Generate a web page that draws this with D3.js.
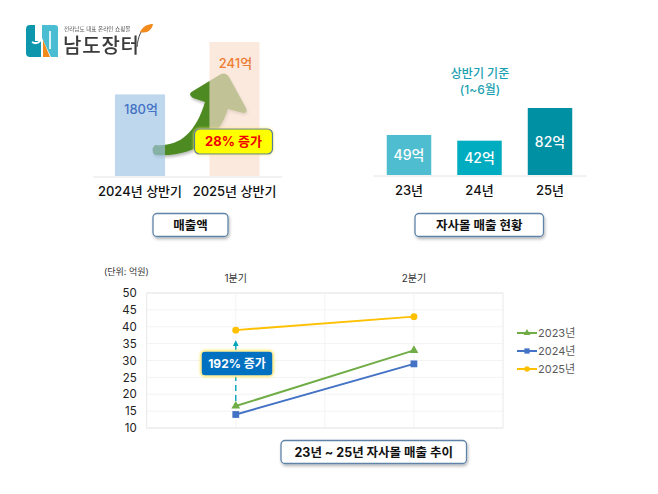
<!DOCTYPE html>
<html>
<head>
<meta charset="utf-8">
<script src="https://cdn.jsdelivr.net/npm/d3@7"></script>
<style>
  body { margin: 0; background: #fff; }
  svg { display: block; }
  svg text { font-family: Inter, "Noto Sans CJK KR", sans-serif; }
</style>
</head>
<body>
<svg class="chart"></svg>
<script>
var halfLabels = ["2024년 상반기", "2025년 상반기"];
var halfValues = [180, 241];

var shopLabels = ["23년", "24년", "25년"];
var shopValues = [49, 42, 82];

var quarters = ["1분기", "2분기"];
var seriesNames = ["2023년", "2024년", "2025년"];
var sales2023 = [16.5, 33];
var sales2024 = [14, 29];
var sales2025 = [39, 43];
var yTicks = [10, 15, 20, 25, 30, 35, 40, 45, 50];

var width = 658;
var height = 494;
var svg = d3.select(".chart").attr("width", width).attr("height", height);

var defs = svg.append("defs");
var soft = defs.append("filter").attr("id", "soft").attr("x", "-20%").attr("y", "-30%").attr("width", "140%").attr("height", "170%");
soft.append("feDropShadow").attr("dx", 1).attr("dy", 2).attr("stdDeviation", 1.6).attr("flood-color", "#000").attr("flood-opacity", 0.28);
var glow = defs.append("filter").attr("id", "glow").attr("x", "-20%").attr("y", "-30%").attr("width", "140%").attr("height", "160%");
glow.append("feDropShadow").attr("dx", 0).attr("dy", 0).attr("stdDeviation", 1.4).attr("flood-color", "#ffe866").attr("flood-opacity", 1);
var blur = defs.append("filter").attr("id", "blur").attr("x", "-20%").attr("y", "-20%").attr("width", "140%").attr("height", "140%");
blur.append("feGaussianBlur").attr("stdDeviation", 0.4);
defs.append("marker").attr("id", "tip").attr("viewBox", "0 0 10 10").attr("refX", 5).attr("refY", 5)
    .attr("markerWidth", 4).attr("markerHeight", 4).attr("orient", "auto")
    .append("path").attr("d", "M0,0L10,5L0,10Z").attr("fill", "#00a5b8");

// logo
var logo = svg.append("g").attr("filter", "url(#blur)");
logo.append("path").attr("d", "M30,25H35V41H41V57H30Q26,57 26,53V29Q26,25 30,25Z").attr("fill", "#0a96ac");
logo.append("path").attr("d", "M42,25H55Q58,25 58,28V57H51L42,38Z").attr("fill", "#4cbdd2");
logo.append("path").attr("d", "M43,40L50,57H43Z").attr("fill", "#f28a1e");
logo.append("path").attr("d", "M50,31V49").attr("fill", "none").attr("stroke", "#fff").attr("stroke-width", 1.6);
logo.append("path").attr("d", "M32,42Q37,45 41,40").attr("fill", "none").attr("stroke", "#fff").attr("stroke-width", 2);
logo.append("path").attr("d", "M137,47C138,37 141,29 147,26").attr("fill", "none").attr("stroke", "#444").attr("stroke-width", 1);
logo.append("path").attr("d", "M140,32C143,26 148,24 153,24C152,30 147,34 140,32Z").attr("fill", "#f28a1e");
logo.append("text").attr("x", 64).attr("y", 31).attr("font-size", 5.6).attr("fill", "#555").text("전라남도 대표 온라인 쇼핑몰");
logo.append("text").attr("x", 63).attr("y", 53).attr("font-size", 20).attr("font-weight", 500).attr("fill", "#3b3b3b").attr("textLength", 76).text("남도장터");

// left bars: growth arrow sits under the translucent bars
svg.append("path")
    .attr("d", "M155,145C178,147 195,135 205,102L193,98Q187,94 193,91L221,74Q226,72 229,77L246,108Q248,113 243,113L228,109C220,135 197,158 155,155Q150,150 155,145Z")
    .attr("fill", "#4e8a22").attr("filter", "url(#soft)");

var halfX = d3.scaleBand().domain(halfLabels).range([92.75, 281.75]).paddingInner(0.47).paddingOuter(0.235);
var halfY = d3.scaleLinear().domain([85, 241]).range([176, 42]);
var halfFill = ["#a0c4e4", "#f9dfce"];
var halfText = ["#4472c4", "#ed7d31"];
var halfOffset = [20, 26];

svg.selectAll(".halfbar").data(halfValues).join("rect").attr("class", "halfbar")
    .attr("x", function(d, i) { return halfX(halfLabels[i]); })
    .attr("y", function(d) { return halfY(d); })
    .attr("width", halfX.bandwidth())
    .attr("height", function(d) { return halfY.range()[0] - halfY(d); })
    .attr("fill", function(d, i) { return halfFill[i]; })
    .attr("opacity", 0.68);
svg.selectAll(".halfval").data(halfValues).join("text").attr("class", "halfval")
    .attr("x", function(d, i) { return halfX(halfLabels[i]) + halfX.bandwidth() / 2 + 1; })
    .attr("y", function(d, i) { return halfY(d) + halfOffset[i]; })
    .attr("text-anchor", "middle").attr("font-size", 13).attr("font-weight", 500)
    .attr("fill", function(d, i) { return halfText[i]; })
    .text(function(d) { return d + "억"; });
var halfAxis = svg.append("g").attr("transform", "translate(0,176.5)")
    .call(d3.axisBottom(halfX).tickSize(0).tickPadding(10));
halfAxis.select(".domain").attr("stroke", "#e4e4e4");
halfAxis.selectAll("text").attr("font-size", 13).attr("font-weight", 500).attr("fill", "#111")
    .style("font-family", 'Inter, "Noto Sans CJK KR"');

// right bars
var shopX = d3.scaleBand().domain(shopLabels).range([373, 586]).paddingInner(0.369).paddingOuter(0.195);
var shopY = d3.scaleLinear().domain([0, 82]).range([175, 108]);
var shopFill = ["#4fbdd0", "#00adc0", "#0090a3"];

svg.selectAll(".shopbar").data(shopValues).join("rect").attr("class", "shopbar")
    .attr("x", function(d, i) { return shopX(shopLabels[i]); })
    .attr("y", function(d) { return shopY(d); })
    .attr("width", shopX.bandwidth())
    .attr("height", function(d) { return shopY(0) - shopY(d); })
    .attr("fill", function(d, i) { return shopFill[i]; });
svg.selectAll(".shopval").data(shopValues).join("text").attr("class", "shopval")
    .attr("x", function(d, i) { return shopX(shopLabels[i]) + shopX.bandwidth() / 2; })
    .attr("y", function(d) { return (shopY(d) + shopY(0)) / 2 + 5; })
    .attr("text-anchor", "middle").attr("font-size", 14).attr("font-weight", 500).attr("fill", "#fff")
    .text(function(d) { return d + "억"; });
var shopAxis = svg.append("g").attr("transform", "translate(0,175.5)")
    .call(d3.axisBottom(shopX).tickSize(0).tickPadding(10));
shopAxis.select(".domain").attr("stroke", "#e4e4e4");
shopAxis.selectAll("text").attr("font-size", 13).attr("font-weight", 500).attr("fill", "#111")
    .style("font-family", 'Inter, "Noto Sans CJK KR"');

svg.append("text").attr("x", 480).attr("y", 78).attr("text-anchor", "middle").attr("font-size", 12).attr("font-weight", 500).attr("fill", "#1a9fb0").text("상반기 기준");
svg.append("text").attr("x", 480).attr("y", 94).attr("text-anchor", "middle").attr("font-size", 12).attr("font-weight", 500).attr("fill", "#1a9fb0").text("(1~6월)");

// line chart
var plot = { left: 146.7, right: 503, top: 293, bottom: 428 };
var lineX = d3.scaleBand().domain(quarters).range([plot.left, plot.right]);
var lineY = d3.scaleLinear().domain([10, 50]).range([plot.bottom, plot.top]);
var midX = function(q) { return lineX(q) + lineX.bandwidth() / 2; };

svg.append("g").selectAll("line").data(yTicks).join("line")
    .attr("x1", plot.left).attr("x2", plot.right)
    .attr("y1", function(d) { return lineY(d); }).attr("y2", function(d) { return lineY(d); })
    .attr("stroke", "#f3f3f3");
var vLines = [quarters[0], quarters[1]].map(midX).concat([plot.left + lineX.bandwidth()]);
svg.append("g").selectAll("line").data(vLines).join("line")
    .attr("x1", function(d) { return d; }).attr("x2", function(d) { return d; })
    .attr("y1", plot.top).attr("y2", plot.bottom)
    .attr("stroke", "#f3f3f3");
svg.append("rect").attr("x", plot.left).attr("y", plot.top)
    .attr("width", plot.right - plot.left).attr("height", plot.bottom - plot.top)
    .attr("fill", "none").attr("stroke", "#e8e8e8");

var yAxis = svg.append("g").attr("transform", "translate(" + plot.left + ",0)")
    .call(d3.axisLeft(lineY).tickValues(yTicks).tickSize(0).tickPadding(10));
yAxis.select(".domain").remove();
yAxis.selectAll("text").attr("font-size", 11.5).attr("fill", "#222")
    .style("font-family", 'Inter, "Noto Sans CJK KR"');

var xAxis = svg.append("g").attr("transform", "translate(0," + plot.top + ")")
    .call(d3.axisTop(lineX).tickSize(0).tickPadding(11));
xAxis.select(".domain").remove();
xAxis.selectAll("text").attr("font-size", 10).attr("fill", "#333")
    .style("font-family", 'Inter, "Noto Sans CJK KR"');

svg.append("text").attr("x", 104).attr("y", 275).attr("font-size", 9).attr("fill", "#333").text("(단위: 억원)");

var series = [
  { name: seriesNames[0], values: sales2023, color: "#70ad47", symbol: d3.symbolTriangle, size: 34 },
  { name: seriesNames[1], values: sales2024, color: "#4472c4", symbol: d3.symbolSquare, size: 46 },
  { name: seriesNames[2], values: sales2025, color: "#ffc000", symbol: d3.symbolCircle, size: 38 }
];
var line = d3.line()
    .x(function(d, i) { return midX(quarters[i]); })
    .y(function(d) { return lineY(d); });

// dashed arrow between the 2024 and 2025 points of 1Q
svg.append("line")
    .attr("x1", midX(quarters[0])).attr("x2", midX(quarters[0]))
    .attr("y1", lineY(sales2023[0]) - 5).attr("y2", lineY(sales2025[0]) + 13)
    .attr("stroke", "#00a5b8").attr("stroke-width", 1.4).attr("stroke-dasharray", "6 4")
    .attr("marker-end", "url(#tip)");

series.forEach(function(s) {
  svg.append("path").attr("d", line(s.values)).attr("fill", "none")
      .attr("stroke", s.color).attr("stroke-width", 2);
  svg.append("g").selectAll("path").data(s.values).join("path")
      .attr("d", d3.symbol().type(s.symbol).size(s.size))
      .attr("transform", function(d, i) { return "translate(" + midX(quarters[i]) + "," + lineY(d) + ")"; })
      .attr("fill", s.color);
});

// legend
var legendY = d3.scalePoint().domain(seriesNames).range([333, 369]);
series.forEach(function(s) {
  var y = legendY(s.name);
  svg.append("line").attr("x1", 517).attr("x2", 537).attr("y1", y).attr("y2", y)
      .attr("stroke", s.color).attr("stroke-width", 2);
  svg.append("path").attr("d", d3.symbol().type(s.symbol).size(s.size * 0.6))
      .attr("transform", "translate(527," + y + ")").attr("fill", s.color);
  svg.append("text").attr("x", 538).attr("y", y + 4).attr("font-size", 11).attr("fill", "#595959").text(s.name);
});

// callouts and captions
function callout(x, y, w, h, label, opts) {
  svg.append("rect").attr("x", x).attr("y", y).attr("width", w).attr("height", h).attr("rx", opts.rx)
      .attr("fill", opts.fill).attr("stroke", opts.stroke).attr("stroke-width", opts.sw)
      .attr("filter", opts.filter);
  svg.append("text").attr("x", x + w / 2).attr("y", y + h / 2 + opts.size * 0.36)
      .attr("text-anchor", "middle").attr("font-size", opts.size).attr("font-weight", 700)
      .attr("fill", opts.color).text(label);
}
var caption = { rx: 4, fill: "#fff", stroke: "#5f84a8", sw: 1.3, filter: "url(#soft)", size: 12.5, color: "#111" };
callout(153, 213.5, 75, 23, "매출액", caption);
callout(415, 213.5, 128.5, 23, "자사몰 매출 현황", caption);
callout(281, 440.5, 185.5, 23, "23년 ~ 25년 자사몰 매출 추이", caption);
callout(194.5, 129, 78, 25, "28% 증가", { rx: 5, fill: "#ffff00", stroke: "#4f7f9f", sw: 1.2, filter: "url(#glow)", size: 13, color: "#f00000" });
callout(201, 351, 72, 25, "192% 증가", { rx: 4, fill: "#0070c0", stroke: "#ffef9a", sw: 1.5, filter: "url(#glow)", size: 12, color: "#fff" });
</script>
</body>
</html>
